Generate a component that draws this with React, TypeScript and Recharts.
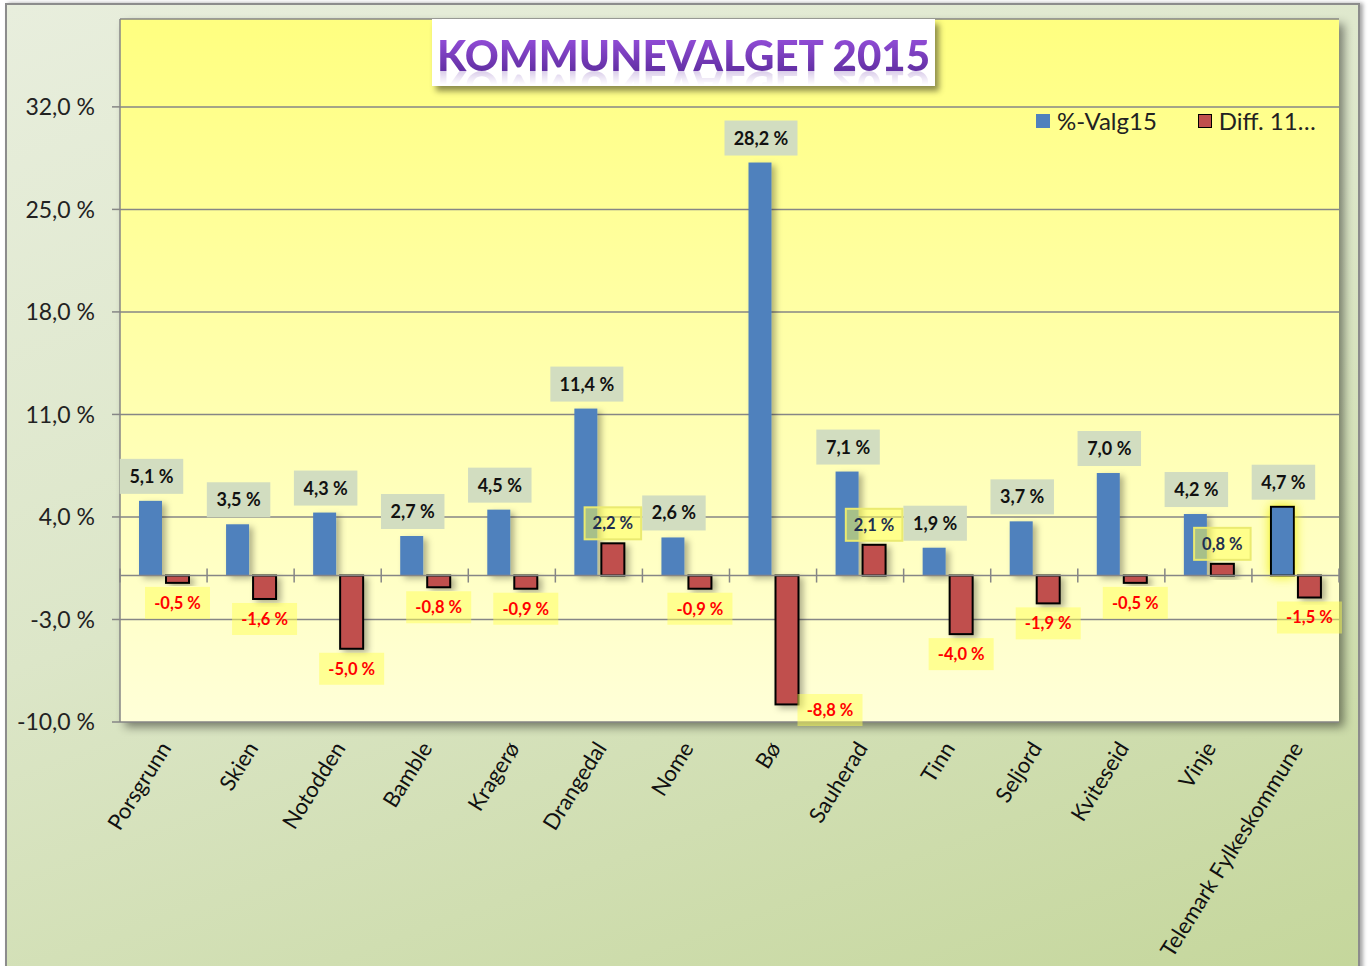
import React from 'react';
import { BarChart, Bar, XAxis, YAxis, CartesianGrid, LabelList, Legend, ReferenceLine } from 'recharts';

const categories = ['Porsgrunn', 'Skien', 'Notodden', 'Bamble', 'Kragerø', 'Drangedal', 'Nome', 'Bø', 'Sauherad', 'Tinn', 'Seljord', 'Kviteseid', 'Vinje', 'Telemark Fylkeskommune'];
const valg15 = [5.1, 3.5, 4.3, 2.7, 4.5, 11.4, 2.6, 28.2, 7.1, 1.9, 3.7, 7.0, 4.2, 4.7];
const diff11 = [-0.5, -1.6, -5.0, -0.8, -0.9, 2.2, -0.9, -8.8, 2.1, -4.0, -1.9, -0.5, 0.8, -1.5];
const yTicks = [-10, -3, 4, 11, 18, 25, 32];
const Y_MIN = -10;
const Y_MAX = 38;
const HIGHLIGHT = 'Telemark Fylkeskommune';
const seriesNames = ['%-Valg15', 'Diff. 11…'];

const data = categories.map((name, i) => ({ name, valg15: valg15[i], diff11: diff11[i] }));

const FONT = 'Lato, "Open Sans", sans-serif';
const fmt = (v: number) => v.toFixed(1).replace('.', ',') + ' %';

const norm = (p: any) => {
  const top = Math.min(p.y, p.y + p.height);
  const h = Math.abs(p.height);
  return { x: p.x, top, w: p.width, h };
};

const BlueBar = (p: any) => {
  const { x, top, w, h } = norm(p);
  const hl = p.payload && p.payload.name === HIGHLIGHT;
  return (
    <rect x={x} y={top} width={w} height={h} fill="#4f81bd"
      stroke={hl ? '#000' : 'none'} strokeWidth={hl ? 2 : 0}
      filter={hl ? 'url(#glow)' : 'url(#barShadow)'} />
  );
};

const RedBar = (p: any) => {
  const { x, top, w, h } = norm(p);
  return <rect x={x} y={top} width={w} height={h} fill="#c0504d" stroke="#000" strokeWidth={2} filter="url(#barShadow)" />;
};

const blueLabel = (p: any) => {
  const { x, top, w } = norm(p);
  const cx = x + w / 2 + 1;
  const text = fmt(Number(p.value));
  const bw = text.length * 9.5 + 16;
  const bh = 35;
  const bottom = top - 7;
  return (
    <g>
      <rect x={cx - bw / 2} y={bottom - bh} width={bw} height={bh} fill="#d2ddc0" />
      <text x={cx} y={bottom - bh / 2} dy="0.36em" textAnchor="middle" fontFamily={FONT} fontWeight={700} fontSize={18} fill="#111">{text}</text>
    </g>
  );
};

const redLabel = (p: any) => {
  const v = Number(p.value);
  const { x, top, w, h } = norm(p);
  const text = fmt(v);
  const bw = text.length * 8.5 + 14;
  const bh = 32;
  let cx = x + w / 2;
  let by: number;
  if (v >= 0) {
    by = top - 4 - bh;
  } else {
    const zeroY = top;
    const perUnit = h / Math.abs(v);
    const plotBottom = zeroY + (0 - Y_MIN) * perUnit;
    by = top + h + 4;
    if (by + bh > plotBottom) {
      by = plotBottom - bh + 4;
      cx = x + w - 1 + bw / 2;
    }
  }
  const pos = v >= 0;
  return (
    <g>
      <rect x={cx - bw / 2} y={by} width={bw} height={bh} fill="#ffff55" fillOpacity={0.5}
        stroke={pos ? '#eaea70' : 'none'} strokeWidth={pos ? 2 : 0} />
      <text x={cx} y={by + bh / 2} dy="0.36em" textAnchor="middle" fontFamily={FONT} fontWeight={700} fontSize={16.5}
        fill={pos ? '#1f2f50' : '#ff0000'}>{text}</text>
    </g>
  );
};

const CatTick = (p: any) => {
  const ax = p.x + 2;
  const ay = p.y + 22;
  return (
    <text x={ax} y={ay} dy="0.35em" textAnchor="end" fontFamily={FONT} fontSize={22} fill="#111"
      transform={`rotate(-58, ${ax}, ${ay})`}>{p.payload.value}</text>
  );
};

const ZeroAxis = (p: any) => {
  const x1 = Math.min(p.x1, p.x2);
  const x2 = Math.max(p.x1, p.x2);
  const y = p.y1;
  const n = categories.length;
  const ticks = [];
  for (let i = 0; i <= n; i++) {
    const tx = x1 + (i * (x2 - x1)) / n;
    ticks.push(<line key={i} x1={tx} x2={tx} y1={y - 7} y2={y + 7} stroke="#868686" strokeWidth={1.5} />);
  }
  return (
    <g>
      <line x1={x1} x2={x2} y1={y} y2={y} stroke="#868686" strokeWidth={1.5} />
      {ticks}
    </g>
  );
};

const renderLegend = () => (
  <div style={{ display: 'flex', alignItems: 'center', fontFamily: FONT, fontSize: 24, color: '#222', whiteSpace: 'nowrap' }}>
    <span style={{ display: 'inline-block', width: 14, height: 14, background: '#4f81bd', marginRight: 7 }} />
    <span style={{ marginRight: 41 }}>{seriesNames[0]}</span>
    <span style={{ display: 'inline-block', width: 12, height: 12, background: '#c0504d', border: '1.5px solid #000', marginRight: 7 }} />
    <span>{seriesNames[1]}</span>
  </div>
);

export default function App() {
  return (
    <div style={{ position: 'absolute', left: 0, top: 0, width: 1368, height: 966, overflow: 'hidden', background: '#fff' }}>
      <style>{`.recharts-cartesian-grid-bg{filter:drop-shadow(5px 5px 5px rgba(0,0,0,0.45));}`}</style>
      <div style={{
        position: 'absolute', left: 5, top: 3, width: 1351, height: 990,
        border: '2px solid #8c8c8c',
        background: 'linear-gradient(160deg, #e8eedd 0%, #dce6c8 45%, #c4d69a 100%)',
        boxShadow: '3px 0 4px rgba(0,0,0,0.35)'
      }} />
      <div style={{ position: 'absolute', left: 0, top: 0 }}>
        <BarChart width={1368} height={966} data={data} margin={{ top: 19, right: 29, left: 0, bottom: 0 }} barGap={4}>
          <defs>
            <linearGradient id="plotBg" x1="0" y1="0" x2="0" y2="1">
              <stop offset="0%" stopColor="#ffff80" />
              <stop offset="100%" stopColor="#ffffd8" />
            </linearGradient>
            <filter id="barShadow" x="-50%" y="-20%" width="220%" height="150%">
              <feDropShadow dx="4" dy="3" stdDeviation="3" floodColor="#000" floodOpacity="0.3" />
            </filter>
            <filter id="glow" x="-100%" y="-50%" width="300%" height="200%">
              <feGaussianBlur in="SourceAlpha" stdDeviation="6" result="b" />
              <feFlood floodColor="#eeee00" floodOpacity="0.95" />
              <feComposite in2="b" operator="in" />
              <feMerge>
                <feMergeNode />
                <feMergeNode in="SourceGraphic" />
              </feMerge>
            </filter>
          </defs>
          <CartesianGrid vertical={false} stroke="#868686" strokeWidth={1.5} fill="url(#plotBg)" fillOpacity={1} />
          <XAxis dataKey="name" height={244} axisLine={false} tickLine={false} tickSize={0} tickMargin={0} interval={0} tick={<CatTick />} />
          <YAxis width={120} domain={[Y_MIN, Y_MAX]} ticks={yTicks} type="number" allowDataOverflow
            tickFormatter={fmt} stroke="#868686" axisLine={{ stroke: '#868686', strokeWidth: 1.5 }}
            tickLine={{ stroke: '#868686', strokeWidth: 1.5 }} tickSize={8} tickMargin={17}
            tick={{ fontFamily: FONT, fontSize: 23, fill: '#222' }} />
          <ReferenceLine y={0} shape={<ZeroAxis />} />
          <Bar dataKey="valg15" name={seriesNames[0]} fill="#4f81bd" barSize={23} isAnimationActive={false} shape={<BlueBar />}>
            <LabelList dataKey="valg15" content={blueLabel} />
          </Bar>
          <Bar dataKey="diff11" name={seriesNames[1]} fill="#c0504d" barSize={23} isAnimationActive={false} shape={<RedBar />}>
            <LabelList dataKey="diff11" content={redLabel} />
          </Bar>
          <Legend layout="horizontal" verticalAlign="middle" content={renderLegend}
            wrapperStyle={{ position: 'absolute', top: 106, left: 1036, width: 320, height: 30 }} />
        </BarChart>
      </div>
      <div style={{
        position: 'absolute', left: 432, top: 19, width: 503, height: 67, background: '#fff',
        boxShadow: '4px 5px 6px rgba(0,0,0,0.45)', display: 'flex', alignItems: 'center', justifyContent: 'center'
      }}>
        <span style={{
          fontFamily: FONT, fontWeight: 900, fontSize: 42, lineHeight: '44px', marginTop: 4,
          background: 'linear-gradient(#9a52e0, #5a2a9a)', WebkitBackgroundClip: 'text', backgroundClip: 'text', color: 'transparent',
          WebkitBoxReflect: 'below -12px linear-gradient(transparent 55%, rgba(255,255,255,0.35))'
        } as any}>KOMMUNEVALGET 2015</span>
      </div>
    </div>
  );
}
